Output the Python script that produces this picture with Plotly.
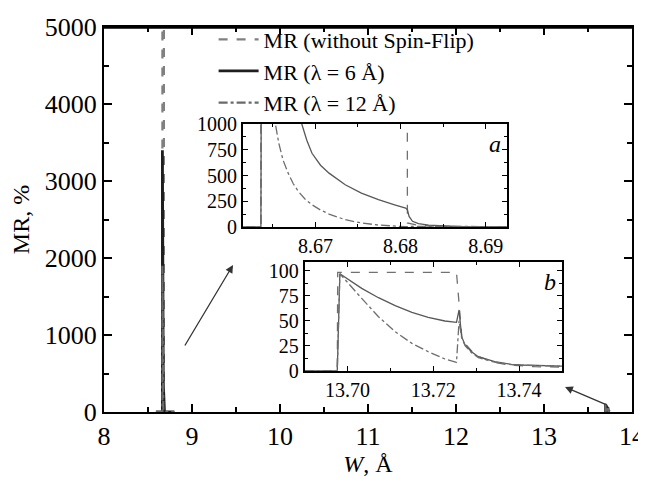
import plotly.graph_objects as go

# ---------------- data ----------------
# Series: MR without spin-flip (dashed), lambda = 6 A (solid), lambda = 12 A (dash-dot)
# Region near W = 8.66 A, then region near W = 13.7 A (None breaks the line)
W_NOSF = [8.59, 8.6636, 8.6637, 8.6806, 8.6808, 8.6814, 8.6821, 8.6833, 8.6852, 8.6872, 8.6925, 8.80,
          None,
          13.69, 13.6976, 13.6977, 13.7254, 13.7267, 13.7297, 13.7336, 13.7374, 13.7436, 13.75]
MR_NOSF = [0, 0, 50000, 50000, 39, 25, 16, 10, 5, 2, 0.5, 0,
           None,
           0, 0, 98.3, 98.3, 30.7, 15.7, 9, 5.7, 4, 3.5]

W_L6 = [8.59, 8.6636, 8.6637, 8.6641, 8.6650, 8.6662, 8.6673, 8.6684, 8.6690, 8.6696, 8.6706, 8.6716,
        8.6735, 8.6754, 8.6774, 8.6793, 8.6806, 8.6808, 8.6810, 8.6814, 8.6821, 8.6833, 8.6852, 8.6872,
        8.6925, 8.80,
        None,
        13.69, 13.6976, 13.6982, 13.7033, 13.7072, 13.7111, 13.7150, 13.7188, 13.7227, 13.7254,
        13.7260, 13.7266, 13.7274, 13.7289, 13.7305, 13.7343, 13.7382, 13.7405, 13.75]
MR_L6 = [0, 0, 3400, 2900, 2200, 1600, 1250, 1000, 840, 716, 600, 523,
         410, 329, 265, 216, 184, 168, 103, 55, 32, 19, 10, 3,
         1, 0,
         None,
         0, 0, 97, 82.3, 73, 65, 58.3, 53.3, 49.7, 48.3,
         60.7, 34, 25.7, 19, 14, 9, 6.3, 5.7, 4.5]

W_L12 = [8.59, 8.6636, 8.6637, 8.6645, 8.6653, 8.6657, 8.6662, 8.6668, 8.6674, 8.6680, 8.6688, 8.6696,
         8.6706, 8.6716, 8.6735, 8.6754, 8.6774, 8.6793, 8.6806, 8.6810, 8.6850, 8.6925, 8.80,
         None,
         13.69, 13.6976, 13.6982, 13.7010, 13.7033, 13.7072, 13.7111, 13.7150, 13.7188, 13.7227, 13.7254,
         13.7260, 13.7266, 13.7274, 13.7289, 13.7305, 13.7343, 13.7382, 13.7405, 13.75]
MR_L12 = [0, 0, 1900, 1300, 1000, 813, 650, 523, 420, 345, 270, 216,
          165, 126, 71, 39, 19, 6, 3, 5, 2, 0.5, 0,
          None,
          0, 0, 97, 84, 72.3, 54, 39, 27.3, 19, 11.7, 8.3,
          50, 33, 25, 18, 13, 8.5, 6, 5.5, 4.5]

NAMES = ["MR (without Spin-Flip)", "MR (λ = 6 Å)", "MR (λ = 12 Å)"]

MAIN_XTICKS = [8, 9, 10, 11, 12, 13, 14]
MAIN_YTICKS = [0, 1000, 2000, 3000, 4000, 5000]
INSET_A_XTICKS = [8.67, 8.68, 8.69]
INSET_A_YTICKS = [0, 250, 500, 750, 1000]
INSET_B_XTICKS = [13.70, 13.72, 13.74]
INSET_B_YTICKS = [0, 25, 50, 75, 100]

# ---------------- figure ----------------
FONT = "Liberation Serif, Times New Roman, serif"
series = [(W_NOSF, MR_NOSF, "dash", "#808080"),
          (W_L6, MR_L6, "solid", "#1e1e1e"),
          (W_L12, MR_L12, "dashdot", "#6a6a6a")]

fig = go.Figure()
for i, (w, mr, dash, col) in enumerate(series):
    fig.add_trace(go.Scatter(x=w, y=mr, mode="lines", name=NAMES[i],
                             line=dict(color=col, dash=dash, width=2.2 if i != 1 else 2.8),
                             xaxis="x", yaxis="y", showlegend=True, connectgaps=False))
inset_cols = ["#707070", "#585858", "#6e6e6e"]
for axn in ("2", "3"):
    for i, (w, mr, dash, col) in enumerate(series):
        fig.add_trace(go.Scatter(x=w, y=mr, mode="lines", showlegend=False,
                                 line=dict(color=inset_cols[i], dash=dash, width=1.3),
                                 xaxis="x" + axn, yaxis="y" + axn, connectgaps=False))

ax_common = dict(showline=True, linecolor="black", mirror="ticks", ticks="inside",
                 showgrid=False, zeroline=False, tickcolor="black", automargin=False)

W_FIG, H_FIG = 646, 485
ML, MR_, MT, MB = 96, 22, 19, 81

fig.update_layout(
    width=W_FIG, height=H_FIG,
    margin=dict(l=ML, r=MR_, t=MT, b=MB, autoexpand=False),
    paper_bgcolor="white", plot_bgcolor="white",
    font=dict(family=FONT, color="black", size=22),
    xaxis=dict(domain=[0, 1], range=[8, 14], tickvals=MAIN_XTICKS, linewidth=2, ticklen=8, tickwidth=1.5,
               minor=dict(dtick=0.5, ticklen=5, ticks="inside", tickcolor="black"),
               title=dict(text="<i>W</i>, Å", font=dict(size=24), standoff=4),
               tickfont=dict(size=26), **ax_common),
    yaxis=dict(domain=[0, 1], range=[0, 5000], tickvals=MAIN_YTICKS, linewidth=2, ticklen=8, tickwidth=1.5,
               minor=dict(dtick=500, ticklen=5, ticks="inside", tickcolor="black"),
               title=dict(text="MR, %", font=dict(size=24), standoff=12),
               tickfont=dict(size=26), **ax_common),
    xaxis2=dict(domain=[0.2633, 0.7633], range=[8.6615, 8.6925], tickvals=INSET_A_XTICKS, tickformat=".2f",
                anchor="y2", linewidth=2, ticklen=5, minor=dict(dtick=0.005, ticklen=3, ticks="inside", tickcolor="black"),
                tickfont=dict(size=20), **ax_common),
    yaxis2=dict(domain=[0.4805, 0.748], range=[0, 1000], tickvals=INSET_A_YTICKS, anchor="x2",
                linewidth=2, ticklen=5, minor=dict(dtick=125, ticklen=3, ticks="inside", tickcolor="black"),
                tickfont=dict(size=20), **ax_common),
    xaxis3=dict(domain=[0.3801, 0.8674], range=[13.69, 13.75], tickvals=INSET_B_XTICKS, tickformat=".2f",
                anchor="y3", linewidth=2, ticklen=5, minor=dict(dtick=0.01, ticklen=3, ticks="inside", tickcolor="black"),
                tickfont=dict(size=20), **ax_common),
    yaxis3=dict(domain=[0.1073, 0.3904], range=[0, 109], tickvals=INSET_B_YTICKS, anchor="x3",
                linewidth=2, ticklen=5, minor=dict(dtick=12.5, ticklen=3, ticks="inside", tickcolor="black"),
                tickfont=dict(size=20), **ax_common),
    legend=dict(x=0.2076, y=1.022, xanchor="left", yanchor="top", bgcolor="rgba(0,0,0,0)",
                font=dict(size=22), tracegroupgap=0, itemwidth=40),
    showlegend=True,
)

# frame of the main panel (drawn just inside the top edge)
fig.add_shape(type="line", xref="paper", yref="paper", x0=0, x1=1, y0=0.998, y1=0.998,
              line=dict(color="black", width=2), layer="above")

fig.add_annotation(text="<i>a</i>", xref="x2 domain", yref="y2 domain", x=0.985, y=0.95,
                   xanchor="right", yanchor="top", showarrow=False, font=dict(size=24))
fig.add_annotation(text="<i>b</i>", xref="x3 domain", yref="y3 domain", x=0.985, y=0.95,
                   xanchor="right", yanchor="top", showarrow=False, font=dict(size=24))

# pointer arrows from the insets to the features
fig.add_annotation(x=9.466, y=1909, ax=8.909, ay=844, xref="x", yref="y", axref="x", ayref="y",
                   text="", showarrow=True, arrowhead=2, arrowsize=1.2, arrowwidth=1.3, arrowcolor="#333")
fig.add_annotation(x=13.239, y=325, ax=13.716, ay=91, xref="x", yref="y", axref="x", ayref="y",
                   text="", showarrow=True, arrowhead=2, arrowsize=1.2, arrowwidth=1.3, arrowcolor="#333")

fig.write_html("out.html")
